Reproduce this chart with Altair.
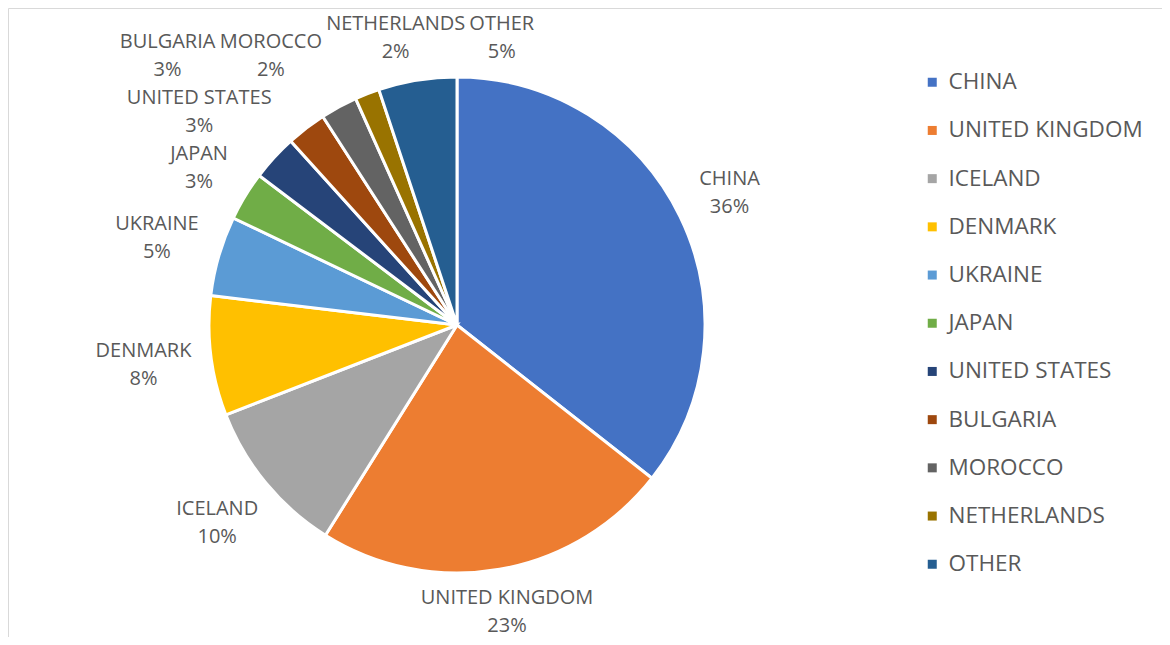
import math
import altair as alt
import pandas as pd

# ---- data ----
countries = ["CHINA", "UNITED KINGDOM", "ICELAND", "DENMARK", "UKRAINE", "JAPAN",
             "UNITED STATES", "BULGARIA", "MOROCCO", "NETHERLANDS", "OTHER"]
shares = [35.6, 23.3, 10.2, 7.8, 5.2, 3.2, 3.0, 2.6, 2.4, 1.6, 5.1]
colors = ["#4472C4", "#ED7D31", "#A5A5A5", "#FFC000", "#5B9BD5", "#70AD47",
          "#264478", "#9E480E", "#636363", "#997300", "#255E91"]

# ---- layout settings ----
W, H = 1154, 629
CX, CY = 449, 317
R = 248
FONT = "Open Sans"
FS = 20
LH = 28
GAP = 17
TEXT = "#595959"

total = sum(shares)
pcts = [f"{round(v / total * 100)}%" for v in shares]

# approximate glyph widths (em) used only to keep data labels from colliding
CW = {"A": .68, "B": .65, "C": .63, "D": .74, "E": .56, "F": .54, "G": .73, "H": .76,
      "I": .33, "J": .27, "K": .62, "L": .53, "M": .91, "N": .77, "O": .79, "P": .60,
      "R": .63, "S": .55, "T": .56, "U": .73, " ": .26, "%": .82}


def tw(s):
    return sum(CW.get(c, .57) for c in s) * FS


n = len(shares)
cum = 0.0
mids = []
for v in shares:
    mids.append((cum + v / 2) / total * 360.0)
    cum += v
HW = [max(tw(c), tw(p)) / 2 for c, p in zip(countries, pcts)]
HH = (LH + FS * 0.75) / 2      # visual half height of a two-line label
CH = (LH + FS * 1.4) / 2       # half height kept free between labels
RG = R + GAP
TOP = -(CY - 4)


def boxdist(x, y, hw):
    dx = max(abs(x) - hw, 0.0)
    dy = max(abs(y) - HH, 0.0)
    return math.hypot(dx, dy)


def ideal(a, hw):
    t = math.radians(a)
    s, c = math.sin(t), -math.cos(t)
    d = 0.0
    while boxdist(d * s, d * c, hw) < RG:
        d += 0.25
    return [d * s, d * c]


def ang(p):
    return math.degrees(math.atan2(p[0], -p[1])) % 360.0


# labels near the top/bottom slide sideways, labels on the sides slide up/down
axis = ["x" if (a >= 315 or a < 45 or 135 <= a < 225) else "y" for a in mids]

home = [ideal(a, hw) for a, hw in zip(mids, HW)]
pos = [p[:] for p in home]


def relax(pull):
    moved = False
    for i in range(n):
        for j in range(i + 1, n):          # i comes before j going clockwise
            xi, yi = pos[i]
            xj, yj = pos[j]
            ox = HW[i] + HW[j] + 2 - abs(xi - xj)
            oy = 2 * CH - abs(yi - yj)
            if ox > 0.01 and oy > 0.01:
                moved = True
                ai, aj = math.radians(ang(pos[i])), math.radians(ang(pos[j]))
                tm = math.atan2(math.sin(ai) + math.sin(aj), math.cos(ai) + math.cos(aj))
                tx, ty = math.cos(tm), math.sin(tm)   # clockwise tangent
                ax = axis[i] if axis[i] == axis[j] else ("x" if ox <= oy else "y")
                if ax == "x":
                    sg = 1 if tx >= 0 else -1
                    pos[j][0] += sg * ox / 2
                    pos[i][0] -= sg * ox / 2
                else:
                    sg = 1 if ty >= 0 else -1
                    pos[j][1] += sg * oy / 2
                    pos[i][1] -= sg * oy / 2
    for i in range(n):
        pos[i][0] += (home[i][0] - pos[i][0]) * pull
        pos[i][1] += (home[i][1] - pos[i][1]) * pull
        if pos[i][1] - HH < TOP:
            pos[i][1] = TOP + HH
        x, y = pos[i]
        if boxdist(x, y, HW[i]) < RG:
            r = math.hypot(x, y)
            ux, uy = x / r, y / r
            while boxdist(x, y, HW[i]) < RG:
                x += ux * 0.5
                y += uy * 0.5
            pos[i] = [x, y]
    return moved


for _ in range(1500):
    relax(0.04)
for _ in range(1500):
    if not relax(0.0):
        break

lab_theta = [ang(p) / 360.0 * total for p in pos]
lab_r = [math.hypot(x, y) for x, y in pos]

df = pd.DataFrame({
    "country": countries,
    "share": shares,
    "idx": list(range(n)),
    "label": [f"{c}\n{p}" for c, p in zip(countries, pcts)],
    "lab_theta": lab_theta,
    "lab_r": lab_r,
})

color = alt.Color(
    "country:N",
    sort=countries,
    scale=alt.Scale(domain=countries, range=colors),
    legend=alt.Legend(
        orient="none", legendX=913, legendY=63, title=None,
        symbolType="square", symbolSize=81, symbolStrokeWidth=0,
        labelFont=FONT, labelFontSize=22.5, labelColor=TEXT,
        labelOffset=5, rowPadding=25.2, padding=0, labelLimit=400,
    ),
)

arcs = alt.Chart(df).mark_arc(stroke="white", strokeWidth=3, radius=R).encode(
    theta=alt.Theta("share:Q", stack=True),
    order=alt.Order("idx:Q"),
    color=color,
    x=alt.value(CX),
    y=alt.value(CY),
)

labels = alt.Chart(df).mark_text(
    font=FONT, fontSize=FS, color=TEXT, lineBreak="\n", lineHeight=LH,
    align="center", baseline="middle", dy=-LH / 2,
).encode(
    theta=alt.Theta("lab_theta:Q", stack=None),
    radius=alt.Radius("lab_r:Q", scale=None),
    text="label:N",
    x=alt.value(CX),
    y=alt.value(CY),
)

chart = alt.layer(arcs, labels).properties(
    width=W, height=H, padding=0,
    autosize=alt.AutoSizeParams(type="none"),
    background="white",
).configure_view(stroke="#D9D9D9", strokeWidth=1)

chart.save("out.html", embed_options={"renderer": "svg", "actions": False})
